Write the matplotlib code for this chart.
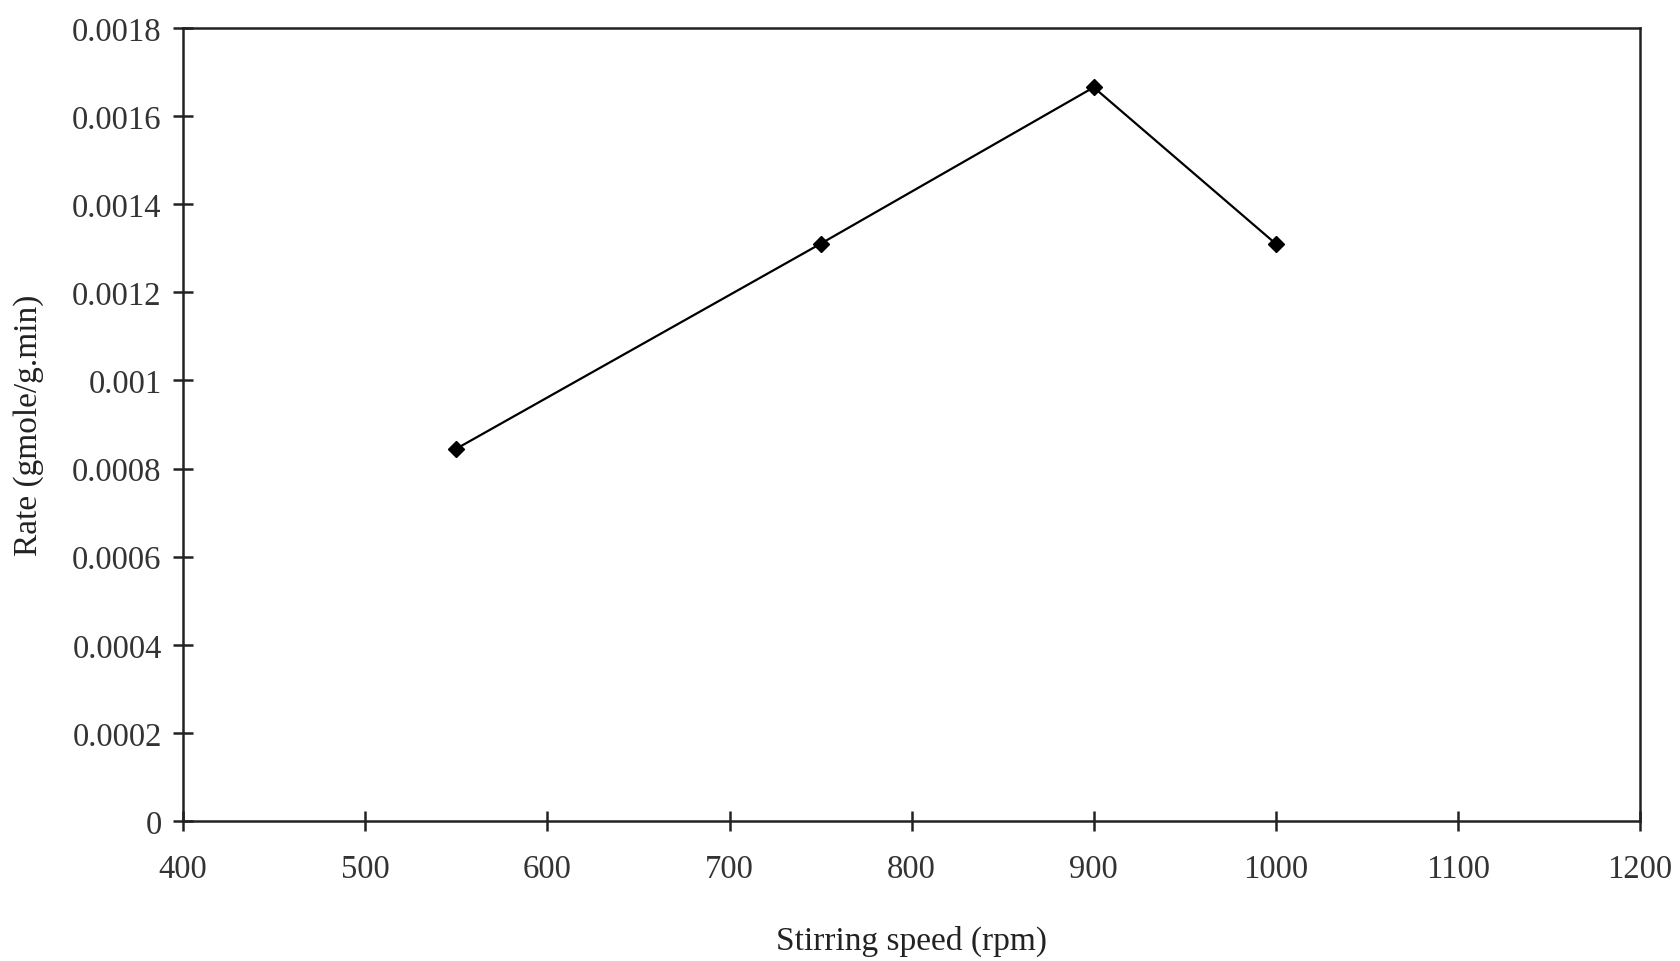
import matplotlib
matplotlib.use("Agg")
import matplotlib.pyplot as plt

speed = [550, 750, 900, 1000]
rate = [0.000845, 0.00131, 0.001665, 0.00131]
x_ticks = [400, 500, 600, 700, 800, 900, 1000, 1100, 1200]
y_ticks = [0, 0.0002, 0.0004, 0.0006, 0.0008, 0.001, 0.0012, 0.0014, 0.0016, 0.0018]
y_tick_labels = ["0", "0.0002", "0.0004", "0.0006", "0.0008", "0.001", "0.0012", "0.0014", "0.0016", "0.0018"]

plt.rcParams['font.family'] = ['Liberation Serif', 'DejaVu Serif']

fig = plt.figure(figsize=(16.81, 9.62), dpi=100)
ax = fig.add_axes([0.109, 0.1455, 0.8666, 0.8245])

ax.plot(speed, rate, color='black', lw=1.6, marker='D', markersize=8.5,
        markerfacecolor='black', markeredgecolor='black')

ax.set_xlim(400, 1200)
ax.set_ylim(0, 0.0018)
ax.set_xticks(x_ticks)
ax.set_yticks(y_ticks)
ax.set_yticklabels(y_tick_labels)

for s in ax.spines.values():
    s.set_linewidth(1.8)
    s.set_color('#222222')

ax.tick_params(axis='both', direction='inout', length=15, width=1.8,
               labelsize=23.5, colors='#222222', labelcolor='#333333')
ax.tick_params(axis='x', pad=16)
ax.tick_params(axis='y', pad=8)

ax.set_xlabel("Stirring speed (rpm)", fontsize=24, color='#222222', labelpad=29)
ax.set_ylabel("Rate (gmole/g.min)", fontsize=24, color='#222222', labelpad=20)

fig.savefig("out.png", dpi=100)
